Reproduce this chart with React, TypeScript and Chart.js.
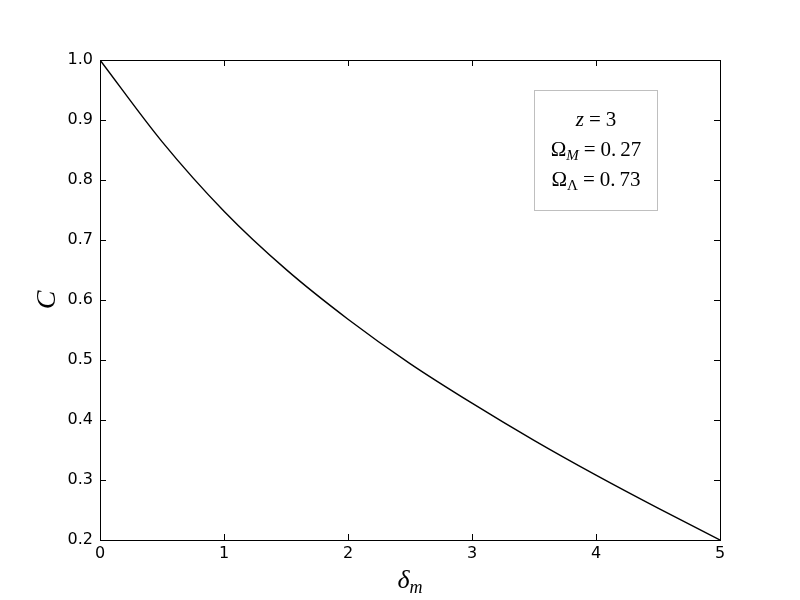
import React, { useEffect, useRef } from "react";
import { Chart, registerables } from "chart.js";

Chart.register(...registerables);

// δ_m values (x) and C values (y)
const deltaM = [0, 0.5, 1, 1.5, 2, 2.5, 3, 3.5, 4, 4.5, 5];
const cValues = [1.0, 0.864, 0.748, 0.651, 0.568, 0.494, 0.428, 0.366, 0.308, 0.253, 0.2];

const xTicks = [0, 1, 2, 3, 4, 5];
const yTicks = [0.2, 0.3, 0.4, 0.5, 0.6, 0.7, 0.8, 0.9, 1.0];

const TICK_FONT = "DejaVu Sans";
const MATH_FONT = "Liberation Serif";

type Seg = { t: string; font: string; dy?: number; gapBefore?: number };

function drawRich(ctx: CanvasRenderingContext2D, segs: Seg[], cx: number, baseline: number) {
  let total = 0;
  const widths = segs.map((s) => {
    ctx.font = s.font;
    const w = ctx.measureText(s.t).width + (s.gapBefore || 0);
    total += w;
    return w;
  });
  let x = cx - total / 2;
  ctx.textAlign = "left";
  ctx.textBaseline = "alphabetic";
  segs.forEach((s, i) => {
    ctx.font = s.font;
    ctx.fillText(s.t, x + (s.gapBefore || 0), baseline + (s.dy || 0));
    x += widths[i];
  });
}

const decorPlugin = {
  id: "decor",
  afterDraw(chart: any) {
    const ctx: CanvasRenderingContext2D = chart.ctx;
    const { left, right, top, bottom } = chart.chartArea;
    const xs = chart.scales.x;
    const ys = chart.scales.y;
    ctx.save();
    ctx.strokeStyle = "#000";
    ctx.lineWidth = 1;
    // frame
    ctx.strokeRect(Math.round(left) + 0.5, Math.round(top) + 0.5, Math.round(right - left), Math.round(bottom - top));
    // inner ticks
    const tl = 6;
    ctx.beginPath();
    xs.ticks.forEach((t: any) => {
      const px = Math.round(xs.getPixelForValue(t.value)) + 0.5;
      ctx.moveTo(px, bottom);
      ctx.lineTo(px, bottom - tl);
      ctx.moveTo(px, top);
      ctx.lineTo(px, top + tl);
    });
    ys.ticks.forEach((t: any) => {
      const py = Math.round(ys.getPixelForValue(t.value)) + 0.5;
      ctx.moveTo(left, py);
      ctx.lineTo(left + tl, py);
      ctx.moveTo(right, py);
      ctx.lineTo(right - tl, py);
    });
    ctx.stroke();

    // axis titles
    ctx.fillStyle = "#000";
    drawRich(
      ctx,
      [
        { t: "δ", font: `italic 26px "${MATH_FONT}"` },
        { t: "m", font: `italic 18px "${MATH_FONT}"`, dy: 5 },
      ],
      (left + right) / 2,
      588
    );
    ctx.save();
    ctx.translate(55, (top + bottom) / 2);
    ctx.rotate(-Math.PI / 2);
    ctx.font = `italic 28px "${MATH_FONT}"`;
    ctx.textAlign = "center";
    ctx.textBaseline = "alphabetic";
    ctx.fillText("C", 0, 0);
    ctx.restore();

    // annotation box
    ctx.strokeStyle = "#bfbfbf";
    ctx.lineWidth = 1;
    ctx.strokeRect(534.5, 90.5, 123, 120);
    const big = `21px "${MATH_FONT}"`;
    const bigI = `italic 21px "${MATH_FONT}"`;
    const subI = `italic 15px "${MATH_FONT}"`;
    const sub = `15px "${MATH_FONT}"`;
    const cx = 596;
    drawRich(
      ctx,
      [
        { t: "z", font: bigI },
        { t: "=", font: big, gapBefore: 5 },
        { t: "3", font: big, gapBefore: 5 },
      ],
      cx,
      126
    );
    drawRich(
      ctx,
      [
        { t: "Ω", font: big },
        { t: "M", font: subI, dy: 4 },
        { t: "=", font: big, gapBefore: 5 },
        { t: "0.", font: big, gapBefore: 5 },
        { t: "27", font: big, gapBefore: 4 },
      ],
      cx,
      156
    );
    drawRich(
      ctx,
      [
        { t: "Ω", font: big },
        { t: "Λ", font: sub, dy: 4 },
        { t: "=", font: big, gapBefore: 5 },
        { t: "0.", font: big, gapBefore: 5 },
        { t: "73", font: big, gapBefore: 4 },
      ],
      cx,
      186
    );
    ctx.restore();
  },
};

export default function App() {
  const ref = useRef<HTMLCanvasElement | null>(null);
  useEffect(() => {
    if (!ref.current) return;
    const chart = new Chart(ref.current, {
      type: "line",
      data: {
        datasets: [
          {
            data: deltaM.map((x, i) => ({ x, y: cValues[i] })),
            borderColor: "#000",
            borderWidth: 1.4,
            pointRadius: 0,
            fill: false,
            cubicInterpolationMode: "monotone",
          },
        ],
      },
      options: {
        responsive: false,
        animation: false,
        layout: { padding: { left: 0, right: 80, top: 60, bottom: 0 } },
        plugins: { legend: { display: false }, tooltip: { enabled: false } },
        scales: {
          x: {
            type: "linear",
            min: 0,
            max: 5,
            afterBuildTicks: (s: any) => {
              s.ticks = xTicks.map((v) => ({ value: v }));
            },
            afterFit: (s: any) => {
              s.height = 60;
            },
            ticks: {
              color: "#000",
              font: { family: TICK_FONT, size: 16 },
              padding: 4,
              maxRotation: 0,
              callback: (v: any) => String(v),
            },
            grid: { display: false, drawTicks: false },
            border: { display: false },
          },
          y: {
            type: "linear",
            min: 0.2,
            max: 1.0,
            afterBuildTicks: (s: any) => {
              s.ticks = yTicks.map((v) => ({ value: v }));
            },
            afterFit: (s: any) => {
              s.width = 100;
            },
            ticks: {
              color: "#000",
              font: { family: TICK_FONT, size: 16 },
              padding: 7,
              callback: (v: any) => Number(v).toFixed(1),
            },
            grid: { display: false, drawTicks: false },
            border: { display: false },
          },
        },
      } as any,
      plugins: [decorPlugin],
    });
    return () => chart.destroy();
  }, []);
  return (
    <div style={{ position: "fixed", left: 0, top: 0, width: 800, height: 600, background: "#fff" }}>
      <canvas ref={ref} width={800} height={600} style={{ width: 800, height: 600, display: "block" }} />
    </div>
  );
}
